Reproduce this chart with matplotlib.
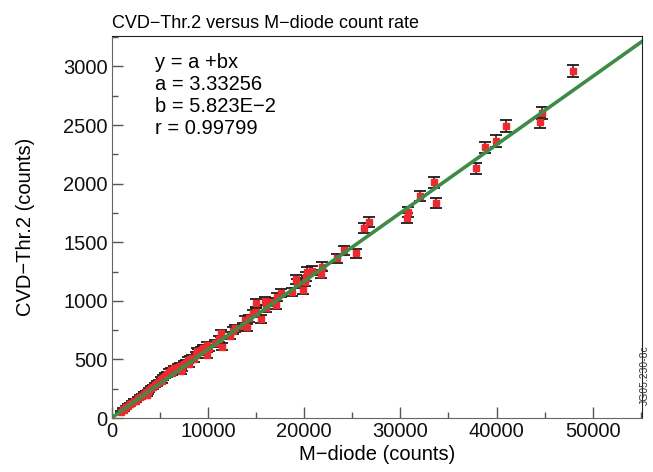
import matplotlib
matplotlib.use("Agg")
import matplotlib.pyplot as plt
from matplotlib.ticker import MultipleLocator
import numpy as np

plt.rcParams['font.family'] = ['Liberation Sans', 'DejaVu Sans']

# M-diode counts (x), CVD-Thr.2 counts (y) and error on y
m_diode = [900, 1100, 1300, 1500, 1700, 1900, 2100, 2300, 2500, 2700,
           2900, 3100, 3300, 3500, 3600, 3700, 3900, 4100, 4300, 4500,
           4700, 4900, 5100, 5200, 5300, 5500, 5700, 5900, 6100, 6200,
           6300, 6500, 6700, 6900, 7100, 7200, 7300, 7500, 7700, 7900,
           8000, 8100, 8300, 8500, 8700, 8800, 8900, 9100, 9300, 9500,
           9500, 9700, 9840, 9900, 10100,
           10700, 11148, 11290, 11393, 12258, 12600, 12778, 13644, 13817, 14093,
           14260, 14620, 14960, 14960, 15480, 15967, 16070, 16518, 17110, 17172,
           17557, 18770, 19185, 19252, 19875, 20050, 20225, 20330, 20810, 21783,
           21887,
           23405, 24100, 25348, 26213, 26700, 30718, 30780, 31997, 33451, 33658,
           37814, 38785, 39925, 40962, 44533, 44702, 47922]
cvd_thr2 = [55, 75, 70, 92, 105, 118, 130, 145, 148, 168,
            180, 190, 205, 218, 200, 222, 240, 258, 262, 282,
            295, 308, 330, 315, 345, 360, 372, 395, 410, 385,
            405, 425, 418, 435, 445, 400, 420, 460, 472, 495,
            460, 505, 515, 500, 540, 575, 560, 565, 580, 590,
            595, 598, 623, 540, 600,
            637, 674, 722, 609, 702, 745, 765, 785, 836, 774,
            851, 893, 979, 907, 845, 1001, 936, 992, 964, 1030,
            1064, 1078, 1183, 1149, 1092, 1163, 1206, 1248, 1257, 1229,
            1291,
            1363, 1433, 1405, 1624, 1675, 1704, 1761, 1897, 2011, 1832,
            2130, 2310, 2366, 2491, 2523, 2600, 2961]
cvd_err = [9, 10, 10, 11, 12, 12, 13, 13, 14, 14,
           15, 15, 16, 16, 16, 16, 17, 17, 17, 18,
           18, 19, 19, 19, 20, 20, 20, 21, 21, 21,
           21, 22, 22, 22, 22, 22, 22, 23, 23, 23,
           23, 24, 24, 24, 25, 25, 25, 25, 26, 26,
           26, 26, 26, 25, 26,
           27, 28, 29, 27, 28, 29, 29, 30, 31, 30,
           31, 32, 33, 32, 31, 33, 32, 33, 33, 34,
           34, 35, 36, 36, 35, 36, 37, 37, 37, 37,
           38,
           38, 39, 39, 41, 42, 42, 43, 44, 45, 43,
           46, 48, 49, 50, 50, 51, 54]

fit_a = 3.33256
fit_b = 5.823e-2

fig = plt.figure(figsize=(6.53, 4.72), dpi=100)
ax = fig.add_axes([0.1715, 0.1144, 0.8112, 0.8093])

xfit = np.array([0, 56000])
ax.plot(xfit, fit_a + fit_b * xfit, color='#15a04a', lw=2.6, zorder=3)
ax.plot(xfit, fit_a + fit_b * xfit, color='#e8383a', lw=0.7, ls='--', zorder=4)

ax.errorbar(m_diode, cvd_thr2, yerr=cvd_err, fmt='s', ms=4, mfc='#ee2a2e',
            mec='#ee2a2e', ecolor='#1a1a1a', elinewidth=1.1, capsize=4.0,
            capthick=1.3, zorder=2)

ax.set_xlim(0, 55100)
ax.set_ylim(0, 3260)
ax.xaxis.set_major_locator(MultipleLocator(10000))
ax.xaxis.set_minor_locator(MultipleLocator(5000))
ax.yaxis.set_major_locator(MultipleLocator(500))
ax.yaxis.set_minor_locator(MultipleLocator(250))
ax.tick_params(which='both', direction='in', colors='#555555', labelcolor='#111111',
               labelsize=14.5, pad=3)
ax.tick_params(which='major', length=8, width=1)
ax.tick_params(which='minor', length=4, width=1)

for side in ['left', 'bottom']:
    ax.spines[side].set_color('#666666')
for side in ['top', 'right']:
    ax.spines[side].set_color('#222222')

ax.set_xlabel('M\u2212diode (counts)', fontsize=14.5, labelpad=3)
ax.set_ylabel('CVD\u2212Thr.2 (counts)', fontsize=14.5, labelpad=20)
ax.set_title('CVD\u2212Thr.2 versus M\u2212diode count rate', loc='left',
             fontsize=13, pad=6)

ax.text(0.082, 0.955, 'y = a +bx\na = 3.33256\nb = 5.823E\u22122\nr = 0.99799',
        transform=ax.transAxes, fontsize=14.5, va='top', ha='left',
        linespacing=1.2)

fig.text(0.988, 0.2055, 'JG05.230-8c', rotation=90, fontsize=7.5,
         ha='center', va='center', color='#333333')

fig.savefig('out.png', dpi=100)
